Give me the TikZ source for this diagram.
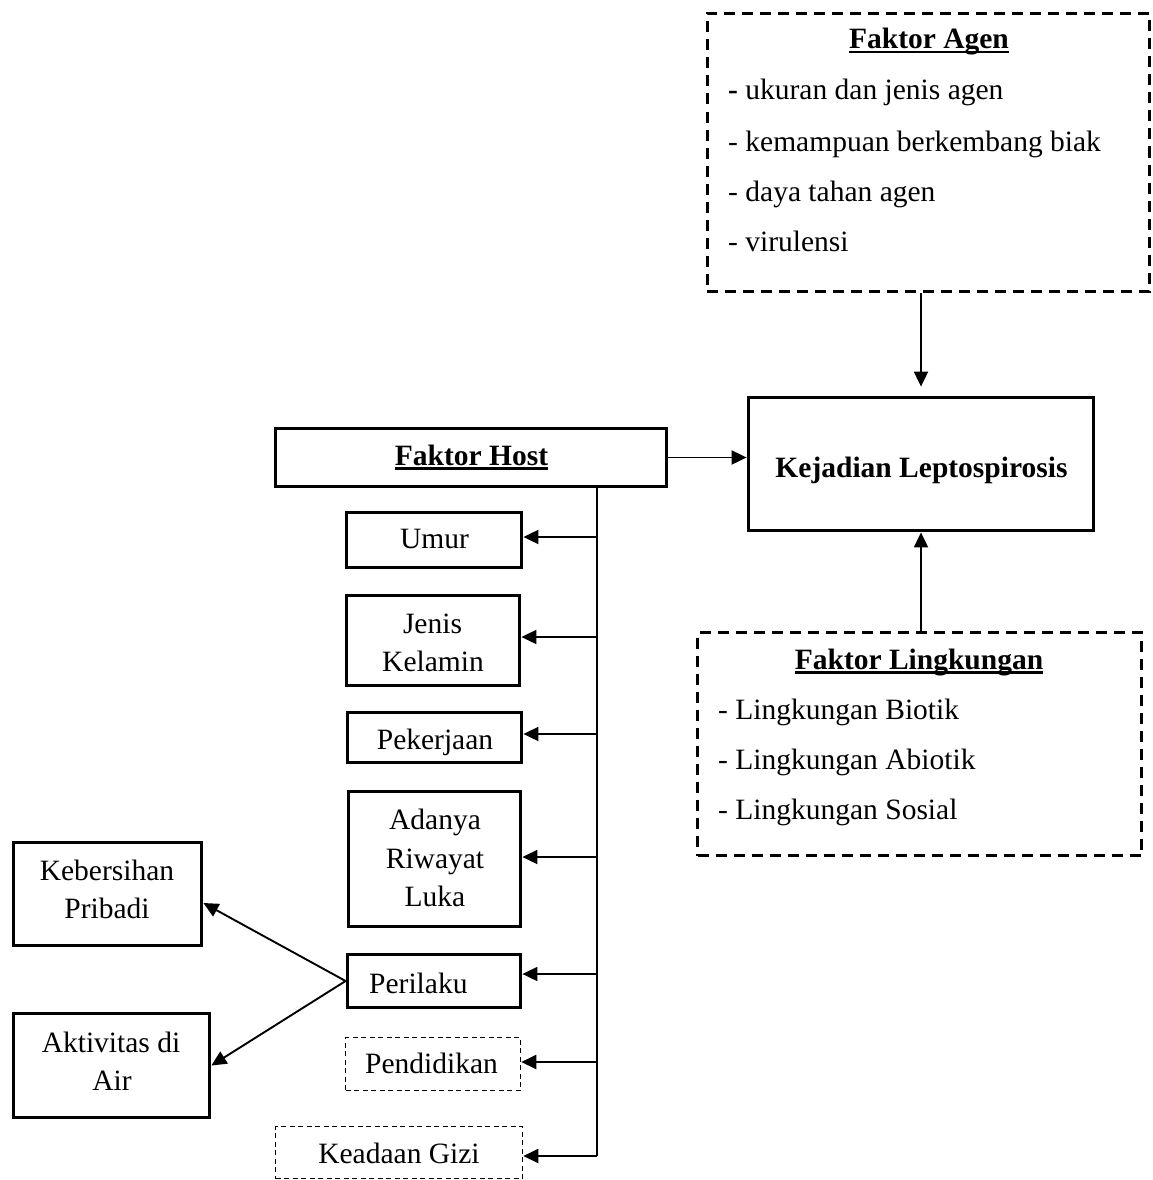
\documentclass[tikz,border=0pt]{standalone}
\usepackage{fontspec}
\setmainfont{Liberation Serif}
\usetikzlibrary{arrows.meta}
\newcommand\myul[1]{\setbox0\hbox{#1}\rlap{\rule[-4.5pt]{\wd0}{2.5pt}}\box0}
\begin{document}
\begin{tikzpicture}[x=1pt,y=-1pt,
  every node/.style={font=\fontsize{29.5}{37.5}\selectfont},
  thickbox/.style={draw, line width=3.8pt, inner sep=0pt},
  bigdash/.style={draw, line width=3pt, dash pattern=on 11pt off 7pt, inner sep=0pt},
  smalldash/.style={draw, line width=1.5pt, dash pattern=on 5pt off 3.5pt, inner sep=0pt},
  lbl/.style={inner sep=0pt, anchor=base},
  lbll/.style={inner sep=0pt, anchor=base west},
  arr/.style={line width=1.9pt, -{Triangle[length=15pt,width=14pt]}},
  ln/.style={line width=1.9pt}]
\useasboundingbox (0,0) rectangle (1153,1180);

% boxes
\node[bigdash, minimum width=442pt, minimum height=278pt] (agen) at (928,152.5) {};
\node[thickbox, minimum width=345pt, minimum height=133pt] (kej) at (921,464) {};
\node[thickbox, minimum width=391pt, minimum height=58pt] (host) at (471,457.5) {};
\node[thickbox, minimum width=175pt, minimum height=55pt] (umur) at (434,540) {};
\node[thickbox, minimum width=173pt, minimum height=90pt] (jenis) at (433,640.5) {};
\node[thickbox, minimum width=174pt, minimum height=50pt] (pek) at (434.5,737.5) {};
\node[thickbox, minimum width=172pt, minimum height=135pt] (luka) at (434.5,859) {};
\node[thickbox, minimum width=173pt, minimum height=53pt] (peri) at (434,981) {};
\node[smalldash, minimum width=175pt, minimum height=53pt] (pend) at (433,1064) {};
\node[smalldash, minimum width=247pt, minimum height=52pt] (gizi) at (399,1152.5) {};
\node[thickbox, minimum width=188pt, minimum height=103pt] (keb) at (107.5,894) {};
\node[thickbox, minimum width=196pt, minimum height=104pt] (akt) at (111.5,1065.5) {};
\node[bigdash, minimum width=444pt, minimum height=223pt] (ling) at (919.5,744) {};

% texts
\node[lbl] (agent) at (929,49) {\bfseries\myul{Faktor Agen}};
\node[lbll] (ag1) at (728,100) {\textbf{-} ukuran dan jenis agen};
\node[lbll] (ag2) at (728,151) {- kemampuan berkembang biak};
\node[lbll] (ag3) at (728,201) {- daya tahan agen};
\node[lbll] (ag4) at (728,251) {- virulensi};

\node[lbl] (lingt) at (919,669) {\bfseries\myul{Faktor Lingkungan}};
\node[lbll] (li1) at (718,719) {- Lingkungan Biotik};
\node[lbll] (li2) at (718,769) {- Lingkungan Abiotik};
\node[lbll] (li3) at (718,819) {- Lingkungan Sosial};

\node[lbl] (kejt) at (921.5,477) {\bfseries Kejadian Leptospirosis};
\node[lbl] (hostt) at (471.5,465) {\bfseries\myul{Faktor Host}};
\node[lbl] (umurt) at (434.5,548) {Umur};
\node[lbl] (jen1) at (432.5,633) {Jenis};
\node[lbl] (jen2) at (433,671) {Kelamin};
\node[lbl] (pekt) at (435,749) {Pekerjaan};
\node[lbl] (lk1) at (435,829) {Adanya};
\node[lbl] (lk2) at (435,868) {Riwayat};
\node[lbl] (lk3) at (435,906) {Luka};
\node[lbll] (perit) at (369,993) {Perilaku};
\node[lbl] (pendt) at (431.5,1073) {Pendidikan};
\node[lbl] (gizit) at (399,1163) {Keadaan Gizi};
\node[lbl] (keb1) at (107,880) {Kebersihan};
\node[lbl] (keb2) at (107,918) {Pribadi};
\node[lbl] (akt1) at (111,1052) {Aktivitas di};
\node[lbl] (akt2) at (112,1090) {Air};

% connectors
\coordinate (bb) at (597,1156);
\draw[arr] (agen.south -| kej.north) -- ([yshift=9pt]kej.north);
\draw[arr] (ling.north -| kej.south) -- (kej.south);
\draw[arr] (host.east) -- (host.east -| kej.west);
\draw[ln] (host.south -| bb) -- (bb);
\draw[arr] ([yshift=3pt]umur.east -| bb) -- ([yshift=3pt]umur.east);
\draw[arr] ([yshift=3.5pt]jenis.east -| bb) -- ([yshift=3.5pt]jenis.east);
\draw[arr] ([yshift=3.5pt]pek.east -| bb) -- ([yshift=3.5pt]pek.east);
\draw[arr] ([yshift=2pt]luka.east -| bb) -- ([yshift=2pt]luka.east);
\draw[arr] ([yshift=7pt]peri.east -| bb) -- ([yshift=7pt]peri.east);
\draw[arr] ([yshift=2pt]pend.east -| bb) -- ([yshift=2pt]pend.east);
\draw[arr] (bb) -- (bb -| gizi.east);
\draw[arr] (peri.west) -- ([yshift=-9pt]keb.east);
\draw[arr] (peri.west) -- (akt.east);
\end{tikzpicture}
\end{document}
